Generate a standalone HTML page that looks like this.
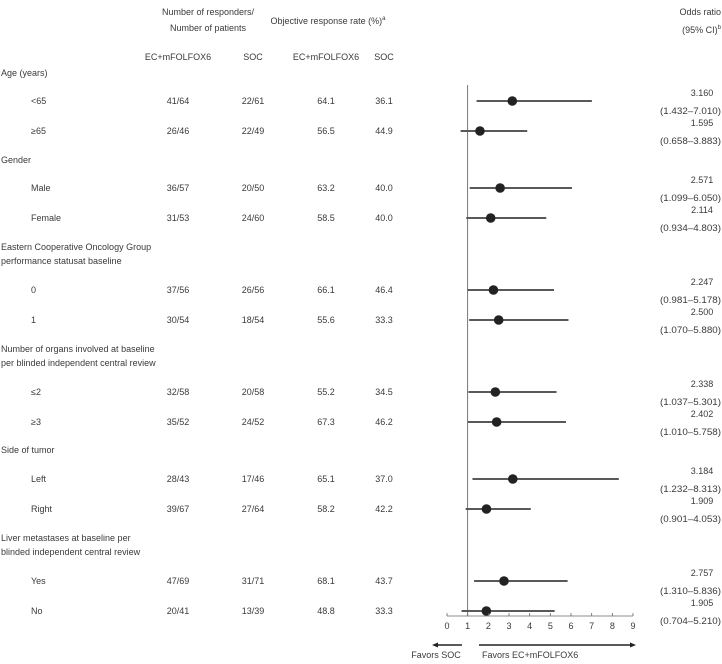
<!DOCTYPE html>
<html><head><meta charset="utf-8"><style>
body{margin:0;background:#fff;}
svg text{font-family:"Liberation Sans",sans-serif;font-size:9px;fill:#3a3a3a;}
</style></head><body>
<svg id="c" width="722" height="659">
<g>
<text x="208" y="15" text-anchor="middle">Number of responders/</text>
<text x="208" y="31" text-anchor="middle">Number of patients</text>
<text x="328" y="24" text-anchor="middle">Objective response rate (%)<tspan font-size="6" dy="-4">a</tspan></text>
<text x="721" y="15" text-anchor="end">Odds ratio</text>
<text x="721" y="33" text-anchor="end">(95% CI)<tspan font-size="6" dy="-4">b</tspan></text>
<text x="178" y="60" text-anchor="middle">EC+mFOLFOX6</text>
<text x="253" y="60" text-anchor="middle">SOC</text>
<text x="326" y="60" text-anchor="middle">EC+mFOLFOX6</text>
<text x="384" y="60" text-anchor="middle">SOC</text>
</g>
<g id="rows"></g>
<g id="plot"></g>
</svg>
<script>
const headings=[["Age (years)"],["Gender"],["Eastern Cooperative Oncology Group","performance statusat baseline"],["Number of organs involved at baseline","per blinded independent central review"],["Side of tumor"],["Liver metastases at baseline per","blinded independent central review"]];
const headingY=[76,163,250,352,453,541];
const labels=["<65","≥65","Male","Female","0","1","≤2","≥3","Left","Right","Yes","No"];
const rowY=[104,134,191,221,293,323,395,425,482,512,584,614];
const respEC=["41/64","26/46","36/57","31/53","37/56","30/54","32/58","35/52","28/43","39/67","47/69","20/41"];
const respSOC=["22/61","22/49","20/50","24/60","26/56","18/54","20/58","24/52","17/46","27/64","31/71","13/39"];
const orrEC=["64.1","56.5","63.2","58.5","66.1","55.6","55.2","67.3","65.1","58.2","68.1","48.8"];
const orrSOC=["36.1","44.9","40.0","40.0","46.4","33.3","34.5","46.2","37.0","42.2","43.7","33.3"];
const oddsRatio=[3.160,1.595,2.571,2.114,2.247,2.500,2.338,2.402,3.184,1.909,2.757,1.905];
const ciLow=[1.432,0.658,1.099,0.934,0.981,1.070,1.037,1.010,1.232,0.901,1.310,0.704];
const ciHigh=[7.010,3.883,6.050,4.803,5.178,5.880,5.301,5.758,8.313,4.053,5.836,5.210];
const ticks=[0,1,2,3,4,5,6,7,8,9];
const NS="http://www.w3.org/2000/svg";
const xs=v=>447+v*(633-447)/9;
function mk(p,tag,a,txt){const e=document.createElementNS(NS,tag);for(const k in a)e.setAttribute(k,a[k]);if(txt!==undefined)e.textContent=txt;p.appendChild(e);return e;}
const R=document.getElementById('rows'),P=document.getElementById('plot');
headings.forEach((h,i)=>{h.forEach((l,j)=>{const t=mk(R,'text',{x:1,y:headingY[i]+j*14},l);

});});
labels.forEach((l,i)=>{const y=rowY[i];
const t=mk(R,'text',{x:31,y:y},l);


mk(R,'text',{x:178,y:y,'text-anchor':'middle'},respEC[i]);
mk(R,'text',{x:253,y:y,'text-anchor':'middle'},respSOC[i]);
mk(R,'text',{x:326,y:y,'text-anchor':'middle'},orrEC[i]);
mk(R,'text',{x:384,y:y,'text-anchor':'middle'},orrSOC[i]);
const o=mk(R,'text',{x:702,y:y-8,'text-anchor':'middle'},oddsRatio[i].toFixed(3));


const c=mk(R,'text',{x:721,y:y+10,'text-anchor':'end','textLength':61,'lengthAdjust':'spacingAndGlyphs'},'('+ciLow[i].toFixed(3)+'–'+ciHigh[i].toFixed(3)+')');


const cy=y-3;
const ln=mk(P,'line',{x1:xs(ciLow[i]),x2:xs(ciHigh[i]),y1:cy,y2:cy,stroke:'#222','stroke-width':1.6});


const d=mk(P,'circle',{cx:xs(oddsRatio[i]),cy:cy,r:4.8,fill:'#222'});


});
const ref=mk(P,'line',{x1:xs(1),x2:xs(1),y1:85,y2:616,stroke:'#555','stroke-width':0.8});


const ax=mk(P,'line',{x1:xs(0),x2:xs(9),y1:616,y2:616,stroke:'#666','stroke-width':0.8});


ticks.forEach(v=>{mk(P,'line',{x1:xs(v),x2:xs(v),y1:613,y2:616,stroke:'#666','stroke-width':0.8});
const t=mk(P,'text',{x:xs(v),y:629,'text-anchor':'middle'},String(v));

});
mk(P,'line',{x1:462,x2:434,y1:645,y2:645,stroke:'#222','stroke-width':1.4});
mk(P,'path',{d:'M432 645 L438 642.5 L438 647.5Z',fill:'#222'});
mk(P,'line',{x1:479,x2:634,y1:645,y2:645,stroke:'#222','stroke-width':1.4});
mk(P,'path',{d:'M636 645 L630 642.5 L630 647.5Z',fill:'#222'});
const f1=mk(P,'text',{x:436,y:658,'text-anchor':'middle'},'Favors SOC');


const f2=mk(P,'text',{x:482,y:658},'Favors EC+mFOLFOX6');


</script>
</body></html>
